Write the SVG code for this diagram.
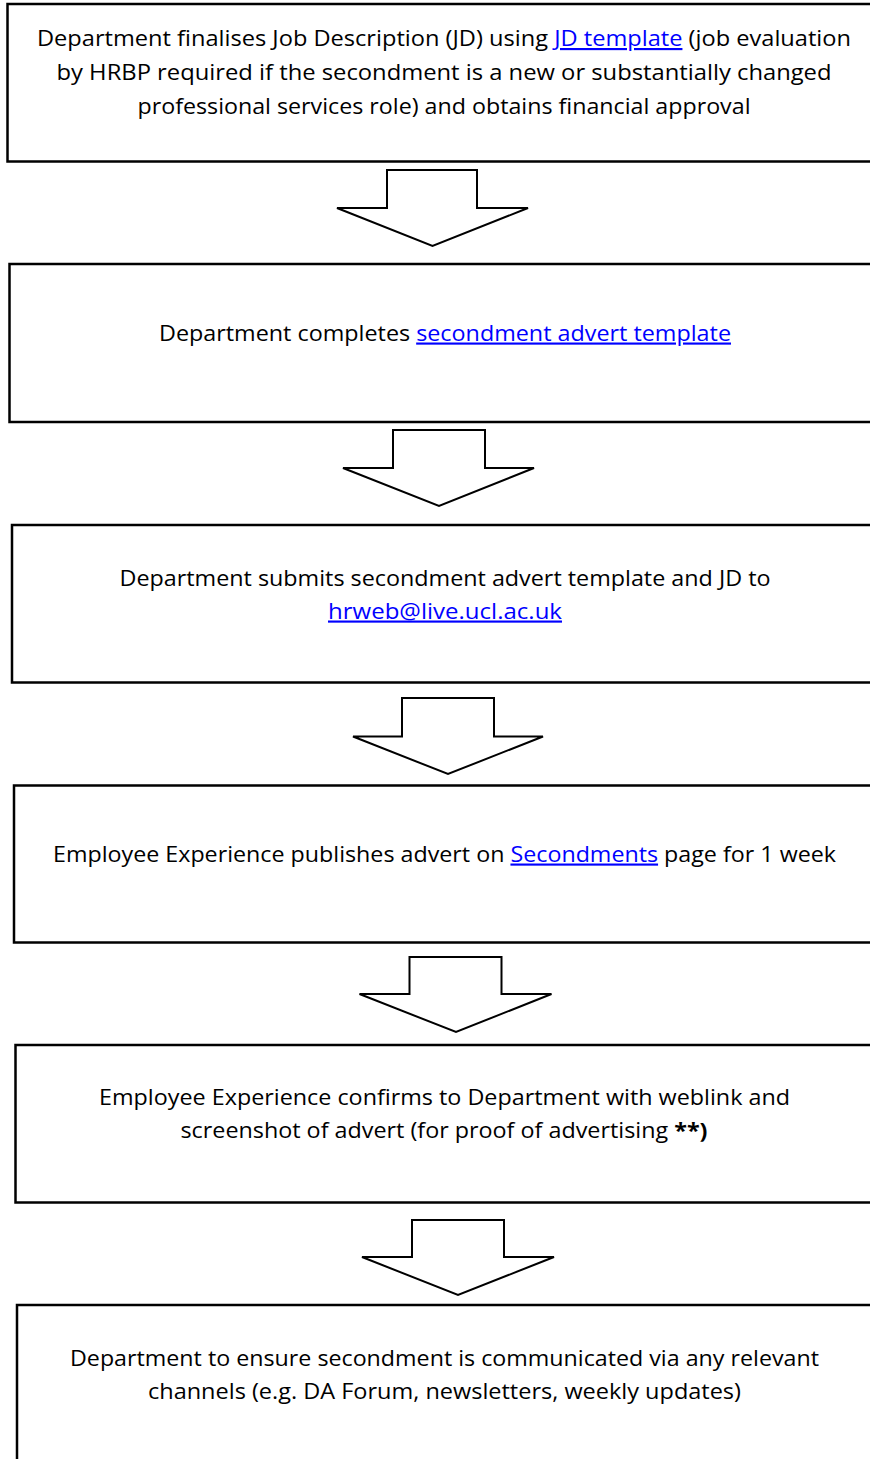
<svg xmlns="http://www.w3.org/2000/svg" width="870" height="1459" viewBox="0 0 870 1459">
<style>
.box{fill:#fff;stroke:#000;stroke-width:2.5}
.arr{fill:#fff;stroke:#000;stroke-width:2;stroke-linejoin:miter}
text{font-family:"Open Sans","Noto Sans","Liberation Sans",sans-serif;font-size:21.5px;fill:#000;text-anchor:middle}
.lnk{fill:#0000ff;text-decoration:underline}
.b{font-weight:bold}
</style>
<rect width="870" height="1459" fill="#fff"/>
<g id="step1">
<rect class="box" x="7.5" y="4" width="890" height="157.5"/>
<text x="444" y="46" textLength="814" lengthAdjust="spacingAndGlyphs">Department finalises Job Description (JD) using <tspan class="lnk">JD template</tspan> (job evaluation</text>
<text x="444" y="80" textLength="775" lengthAdjust="spacingAndGlyphs">by HRBP required if the secondment is a new or substantially changed</text>
<text x="444" y="114" textLength="613" lengthAdjust="spacingAndGlyphs">professional services role) and obtains financial approval</text>
</g>
<g id="step2">
<rect class="box" x="9.5" y="264" width="890" height="158"/>
<text x="445" y="340.5" textLength="572" lengthAdjust="spacingAndGlyphs">Department completes <tspan class="lnk">secondment advert template</tspan></text>
</g>
<g id="step3">
<rect class="box" x="12" y="525" width="890" height="157.5"/>
<text x="445" y="585.5" textLength="651" lengthAdjust="spacingAndGlyphs">Department submits secondment advert template and JD to</text>
<text x="445" y="618.5" textLength="234" lengthAdjust="spacingAndGlyphs"><tspan class="lnk">hrweb@live.ucl.ac.uk</tspan></text>
</g>
<g id="step4">
<rect class="box" x="14" y="785.5" width="890" height="157"/>
<text x="444.5" y="861.5" textLength="783" lengthAdjust="spacingAndGlyphs">Employee Experience publishes advert on <tspan class="lnk">Secondments</tspan> page for 1 week</text>
</g>
<g id="step5">
<rect class="box" x="15.5" y="1045" width="890" height="157.5"/>
<text x="444.5" y="1104.5" textLength="691" lengthAdjust="spacingAndGlyphs">Employee Experience confirms to Department with weblink and</text>
<text x="444" y="1138" textLength="527" lengthAdjust="spacingAndGlyphs">screenshot of advert (for proof of advertising <tspan class="b">**)</tspan></text>
</g>
<g id="step6">
<rect class="box" x="17" y="1305" width="890" height="200"/>
<text x="444.5" y="1365.5" textLength="749" lengthAdjust="spacingAndGlyphs">Department to ensure secondment is communicated via any relevant</text>
<text x="444.5" y="1399" textLength="593" lengthAdjust="spacingAndGlyphs">channels (e.g. DA Forum, newsletters, weekly updates)</text>
</g>
<g id="connectors">
<polygon class="arr" points="387,170 477,170 477,208 528,208 432.5,246 337,208 387,208"/>
<polygon class="arr" points="393,430 485,430 485,468 534,468 439,506 343,468 393,468"/>
<polygon class="arr" points="402,698 494,698 494,736.5 543,736.5 448,774 353,736.5 402,736.5"/>
<polygon class="arr" points="409.5,957 501.5,957 501.5,994 551.5,994 456,1032 359.5,994 409.5,994"/>
<polygon class="arr" points="412,1220 504,1220 504,1257 554,1257 458,1295 362,1257 412,1257"/>
</g>
</svg>
